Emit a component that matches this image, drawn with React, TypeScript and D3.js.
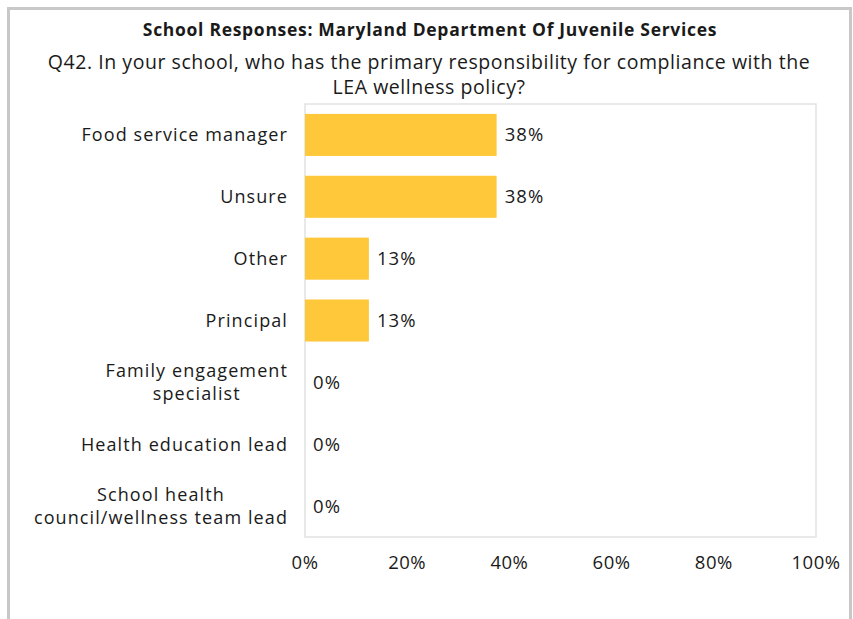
import React, { useEffect, useRef } from "react";
import * as d3 from "d3";

const categories: string[][] = [
  ["Food service manager"],
  ["Unsure"],
  ["Other"],
  ["Principal"],
  ["Family engagement", "specialist"],
  ["Health education lead"],
  ["School health", "council/wellness team lead"],
];
const values: number[] = [37.5, 37.5, 12.5, 12.5, 0, 0, 0];
const ticks: number[] = [0, 20, 40, 60, 80, 100];
const title = "School Responses: Maryland Department Of Juvenile Services";
const subtitleLines = [
  "Q42. In your school, who has the primary responsibility for compliance with the",
  "LEA wellness policy?",
];

const W = 853;
const H = 619;
const FONT = "'Open Sans', 'Noto Sans', sans-serif";

export default function App() {
  const ref = useRef<SVGSVGElement | null>(null);

  useEffect(() => {
    const svg = d3.select(ref.current);
    svg.selectAll("*").remove();

    const left = 305, right = 816, top = 104, bottom = 537;
    const x = d3.scaleLinear().domain([0, 100]).range([left, right]);
    const y = d3
      .scaleBand<number>()
      .domain(d3.range(categories.length))
      .range([top, bottom])
      .paddingInner(0.32)
      .paddingOuter(0.16);

    svg.append("rect").attr("x", 0).attr("y", 0).attr("width", W).attr("height", H).attr("fill", "#fff");
    // outer frame
    svg
      .append("rect")
      .attr("x", 8.5)
      .attr("y", 8.5)
      .attr("width", 842)
      .attr("height", 700)
      .attr("fill", "none")
      .attr("stroke", "#c8c8c8")
      .attr("stroke-width", 3);

    svg
      .append("text")
      .attr("x", 430)
      .attr("y", 36)
      .attr("text-anchor", "middle")
      .attr("font-family", FONT)
      .attr("font-weight", 700)
      .attr("font-size", 17.5)
      .attr("letter-spacing", 0.7)
      .attr("fill", "#1a1a1a")
      .text(title);

    subtitleLines.forEach((s, i) => {
      svg
        .append("text")
        .attr("x", 429)
        .attr("y", 69 + i * 25)
        .attr("text-anchor", "middle")
        .attr("font-family", FONT)
        .attr("font-size", 19.5)
        .attr("letter-spacing", 0.55)
        .attr("fill", "#1a1a1a")
        .text(s);
    });

    // plot area border
    svg
      .append("rect")
      .attr("x", left)
      .attr("y", top)
      .attr("width", right - left)
      .attr("height", bottom - top)
      .attr("fill", "none")
      .attr("stroke", "#e2e2e2")
      .attr("stroke-width", 1.5);

    // bars
    svg
      .selectAll("rect.bar")
      .data(values)
      .enter()
      .append("rect")
      .attr("class", "bar")
      .attr("x", x(0))
      .attr("y", (_, i) => y(i)!)
      .attr("width", (d) => x(d) - x(0))
      .attr("height", y.bandwidth())
      .attr("fill", "#FFC83A");

    // value labels
    svg
      .selectAll("text.val")
      .data(values)
      .enter()
      .append("text")
      .attr("class", "val")
      .attr("x", (d) => x(d) + 8)
      .attr("y", (_, i) => y(i)! + y.bandwidth() / 2)
      .attr("dy", "0.35em")
      .attr("font-family", FONT)
      .attr("font-size", 18.5)
      .attr("letter-spacing", 1.1)
      .attr("fill", "#1a1a1a")
      .text((d) => `${Math.round(d)}%`);

    // category labels
    categories.forEach((lines, i) => {
      const g = svg.append("g");
      const cy = y(i)! + y.bandwidth() / 2;
      const lh = 23;
      const texts = lines.map((l, j) =>
        g
          .append("text")
          .attr("y", cy + (j - (lines.length - 1) / 2) * lh)
          .attr("dy", "0.35em")
          .attr("text-anchor", "middle")
          .attr("font-family", FONT)
          .attr("font-size", 18)
          .attr("letter-spacing", 1.1)
          .attr("fill", "#1a1a1a")
          .text(l)
      );
      const maxW = d3.max(texts, (t) => (t.node() as SVGTextElement).getComputedTextLength()) || 0;
      texts.forEach((t) => t.attr("x", 288 - maxW / 2));
    });

    // x ticks
    svg
      .selectAll("text.tick")
      .data(ticks)
      .enter()
      .append("text")
      .attr("class", "tick")
      .attr("x", (d) => x(d))
      .attr("y", 563)
      .attr("dy", "0.35em")
      .attr("text-anchor", "middle")
      .attr("font-family", FONT)
      .attr("font-size", 18.5)
      .attr("letter-spacing", 0.5)
      .attr("fill", "#1a1a1a")
      .text((d) => `${d}%`);
  }, []);

  return (
    <svg
      ref={ref}
      width={W}
      height={H}
      style={{ position: "absolute", left: 0, top: 0, display: "block" }}
    />
  );
}
